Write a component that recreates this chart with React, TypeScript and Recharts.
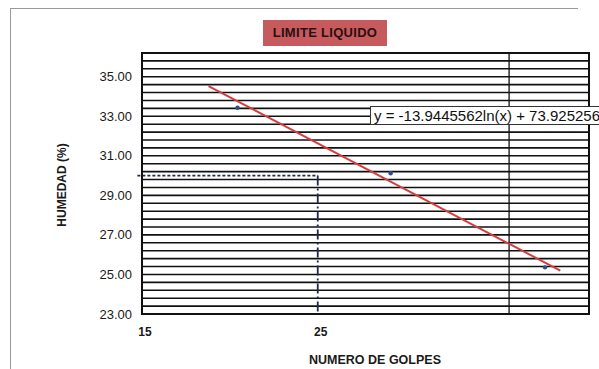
import React from 'react';
import {
  ComposedChart,
  XAxis,
  YAxis,
  CartesianGrid,
  Scatter,
  Line,
  ReferenceLine,
  ReferenceArea,
} from 'recharts';

// Measured points (number of blows vs moisture %)
const blowCounts = [19.8, 30.9, 48.4];
const moistureValues = [33.43, 30.12, 25.36];

// Logarithmic trend line end points as drawn
const trendBlows = [18.2, 50.6];
const trendMoisture = [34.53, 25.19];

// Axis ticks
const xTicks = [15, 25];
const xDomain = [15, 55];
const yDomain = [23, 36.2];
const yLabelTicks = [23, 25, 27, 29, 31, 33, 35];
const yGridTicks = [
  23.0, 23.4, 23.8, 24.2, 24.6, 25.0, 25.4, 25.8, 26.2, 26.6, 27.0, 27.4,
  27.8, 28.2, 28.6, 29.0, 29.4, 29.8, 30.2, 30.6, 31.0, 31.4, 31.8, 32.2,
  32.6, 33.0, 33.4, 33.8, 34.2, 34.6, 35.0, 35.4, 35.8, 36.2,
];

// Liquid limit reading at 25 blows
const targetBlows = 25;
const targetMoisture = 30;
const extraGridBlows = 43.6;

const pointData = blowCounts.map((x, i) => ({ x, y: moistureValues[i] }));
const trendData = trendBlows.map((x, i) => ({ x, y: trendMoisture[i] }));

const FONT = '"Liberation Sans", Arial, sans-serif';

const YTick = (props: any) => {
  const { x, y, payload } = props;
  const v = payload.value;
  const show = yLabelTicks.some((t) => Math.abs(t - v) < 0.01);
  if (!show) return null;
  return (
    <text x={x - 10} y={y + 4.5} textAnchor="end" fontFamily={FONT} fontSize={13} fill="#1a1a1a">
      {v.toFixed(2)}
    </text>
  );
};

const XTick = (props: any) => {
  const { x, y, payload } = props;
  return (
    <text x={x + 3} y={y + 22} textAnchor="middle" fontFamily={FONT} fontSize={12} fontWeight="bold" fill="#1a1a1a">
      {payload.value}
    </text>
  );
};

const Dot = (props: any) => {
  const { cx, cy } = props;
  return <circle cx={cx} cy={cy} r={2.2} fill="#2d4e8c" />;
};

export default function App() {
  return (
    <div
      style={{
        position: 'absolute',
        left: 0,
        top: 0,
        width: 599,
        height: 369,
        background: '#fff',
        overflow: 'hidden',
        fontFamily: FONT,
      }}
    >
      {/* outer frame */}
      <div style={{ position: 'absolute', left: 10, top: 8, width: 568, height: 0, borderTop: '1.5px solid #9a9a9a' }} />
      <div style={{ position: 'absolute', left: 10, top: 8, width: 0, height: 361, borderLeft: '1.5px solid #9a9a9a' }} />

      <ComposedChart
        width={599}
        height={369}
        margin={{ top: 53, right: 10, left: 0, bottom: 25 }}
        style={{ position: 'absolute', left: 0, top: 0 }}
      >
        <CartesianGrid horizontal vertical={false} stroke="#111" strokeWidth={1.6} />
        <XAxis
          type="number"
          dataKey="x"
          scale="log"
          domain={xDomain}
          ticks={xTicks}
          allowDataOverflow
          height={30}
          tickSize={0}
          tickMargin={0}
          tickLine={false}
          axisLine={{ stroke: '#111', strokeWidth: 2 }}
          tick={<XTick />}
          interval={0}
        />
        <YAxis
          type="number"
          dataKey="y"
          domain={yDomain}
          ticks={yGridTicks}
          allowDataOverflow
          width={142}
          tickSize={0}
          tickMargin={0}
          tickLine={false}
          axisLine={{ stroke: '#111', strokeWidth: 2 }}
          tick={<YTick />}
          interval={0}
        />
        <ReferenceArea
          x1={xDomain[0]}
          x2={xDomain[1]}
          y1={yDomain[0]}
          y2={yDomain[1]}
          fill="none"
          stroke="#111"
          strokeWidth={2}
          fillOpacity={0}
        />
        <ReferenceLine x={extraGridBlows} stroke="#111" strokeWidth={1.3} />
        <ReferenceLine
          segment={[
            { x: 14.8, y: targetMoisture },
            { x: targetBlows, y: targetMoisture },
          ]}
          stroke="#1f2a44"
          strokeWidth={1.8}
          strokeDasharray="3 2"
          ifOverflow="visible"
        />
        <ReferenceLine
          segment={[
            { x: targetBlows, y: targetMoisture },
            { x: targetBlows, y: yDomain[0] },
          ]}
          stroke="#1f2a44"
          strokeWidth={1.8}
          strokeDasharray="10 3 2 3"
        />
        <Line
          data={trendData}
          dataKey="y"
          type="linear"
          stroke="#d43d3f"
          strokeWidth={2}
          dot={false}
          activeDot={false}
          isAnimationActive={false}
        />
        <Scatter data={pointData} dataKey="y" shape={<Dot />} isAnimationActive={false} />
      </ComposedChart>

      {/* title */}
      <div
        style={{
          position: 'absolute',
          left: 263,
          top: 20,
          width: 124,
          height: 26,
          background: '#c65a5d',
          color: '#2a1012',
          fontSize: 13,
          fontWeight: 600,
          lineHeight: '26px',
          textAlign: 'center',
          letterSpacing: 0.3,
        }}
      >
        LIMITE LIQUIDO
      </div>

      {/* equation box */}
      <div
        style={{
          position: 'absolute',
          left: 370,
          top: 106,
          width: 240,
          height: 17,
          background: '#fff',
          border: '1px solid #333',
          color: '#111',
          fontSize: 15,
          lineHeight: '17px',
          paddingLeft: 3,
          whiteSpace: 'nowrap',
        }}
      >
        y = -13.9445562ln(x) + 73.925256
      </div>

      {/* axis titles */}
      <div
        style={{
          position: 'absolute',
          left: 62 - 60,
          top: 185 - 8,
          width: 120,
          height: 16,
          lineHeight: '16px',
          textAlign: 'center',
          transform: 'rotate(-90deg)',
          fontSize: 12,
          fontWeight: 'bold',
          color: '#1a1a1a',
          whiteSpace: 'nowrap',
        }}
      >
        HUMEDAD (%)
      </div>
      <div
        style={{
          position: 'absolute',
          left: 375 - 100,
          top: 352,
          width: 200,
          height: 16,
          lineHeight: '16px',
          textAlign: 'center',
          fontSize: 12.5,
          fontWeight: 'bold',
          color: '#1a1a1a',
          whiteSpace: 'nowrap',
        }}
      >
        NUMERO DE GOLPES
      </div>
    </div>
  );
}
